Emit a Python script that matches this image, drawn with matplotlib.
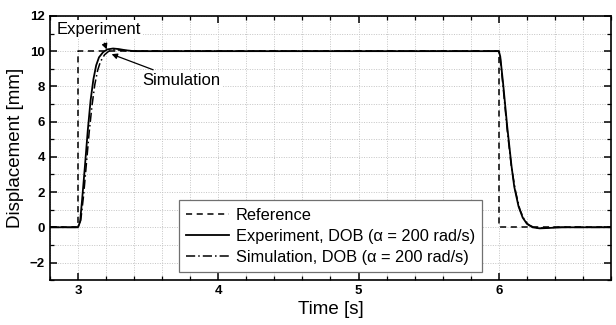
import matplotlib
matplotlib.use("Agg")
import matplotlib.pyplot as plt
from matplotlib.ticker import MultipleLocator

plt.rcParams['font.family'] = ['Liberation Sans', 'DejaVu Sans']

# values
ref_t = [2.8, 3.0, 3.0, 6.0, 6.0, 6.8]
ref_y = [0, 0, 10, 10, 0, 0]

exp_t = [2.8, 3.0, 3.015, 3.03, 3.05, 3.07, 3.09, 3.11, 3.13, 3.15, 3.18,
         3.21, 3.25, 3.29, 3.34, 3.40, 3.50, 6.0, 6.01, 6.03, 6.06, 6.09,
         6.11, 6.14, 6.17, 6.20, 6.24, 6.29, 6.35, 6.45, 6.8]
exp_y = [0, 0, 0.3, 1.6, 3.5, 5.5, 7.2, 8.4, 9.2, 9.65, 9.95,
         10.1, 10.15, 10.12, 10.05, 10.0, 10.0, 10.0, 9.7, 8.2, 5.7, 3.5,
         2.3, 1.2, 0.55, 0.2, 0.0, -0.06, -0.04, 0.0, 0.0]

sim_t = [2.8, 3.0, 3.02, 3.04, 3.06, 3.08, 3.10, 3.12, 3.14, 3.16, 3.19,
         3.22, 3.26, 3.30, 3.36, 3.45, 6.0, 6.01, 6.03, 6.06, 6.09,
         6.12, 6.15, 6.18, 6.21, 6.25, 6.30, 6.40, 6.8]
sim_y = [0, 0, 0.4, 1.8, 3.6, 5.4, 6.9, 8.1, 8.9, 9.4, 9.8,
         10.0, 10.08, 10.06, 10.02, 10.0, 10.0, 9.6, 8.0, 5.5, 3.4,
         2.0, 1.0, 0.45, 0.15, 0.0, -0.04, 0.0, 0.0]

labels = ['Reference',
          'Experiment, DOB (α = 200 rad/s)',
          'Simulation, DOB (α = 200 rad/s)']

fig = plt.figure(figsize=(6.16, 3.25), dpi=100)
ax = fig.add_axes([0.081, 0.138, 0.911, 0.813])

ax.plot(ref_t, ref_y, color='black', linestyle=(0, (4, 3)), lw=1.1, label=labels[0])
ax.plot(exp_t, exp_y, color='black', linestyle='-', lw=1.3, label=labels[1])
ax.plot(sim_t, sim_y, color='black', linestyle=(0, (6, 2, 1, 2)), lw=1.1, label=labels[2])

ax.set_xlim(2.8, 6.8)
ax.set_ylim(-3, 12)
ax.xaxis.set_major_locator(MultipleLocator(1))
ax.xaxis.set_minor_locator(MultipleLocator(0.2))
ax.yaxis.set_major_locator(MultipleLocator(2))
ax.yaxis.set_minor_locator(MultipleLocator(1))
ax.grid(True, which='both', color='#c4c4c4', linestyle=(0, (1, 1.5)), lw=0.7)
ax.tick_params(which='both', direction='in', top=True, right=True)
ax.tick_params(which='major', length=5, width=1.1, labelsize=9.5)
ax.tick_params(which='minor', length=3, width=0.9)
for lab in ax.get_xticklabels() + ax.get_yticklabels():
    lab.set_fontweight('bold')
for s in ax.spines.values():
    s.set_linewidth(1.2)

ax.set_xlabel('Time [s]', fontsize=13.5, labelpad=3)
ax.set_ylabel('Displacement [mm]', fontsize=13.5)

ax.annotate('Experiment', xy=(3.205, 10.1), xytext=(3.15, 11.25),
            fontsize=12, ha='center', va='center',
            bbox=dict(facecolor='white', edgecolor='none', pad=1),
            arrowprops=dict(arrowstyle='-|>', color='black', lw=0.9,
                            shrinkA=4, shrinkB=0, mutation_scale=8))
ax.annotate('Simulation', xy=(3.24, 9.83), xytext=(3.74, 8.33),
            fontsize=12, ha='center', va='center',
            bbox=dict(facecolor='white', edgecolor='none', pad=1),
            arrowprops=dict(arrowstyle='-|>', color='black', lw=0.9,
                            shrinkA=4, shrinkB=0, mutation_scale=8))

leg = ax.legend(loc='lower center', bbox_to_anchor=(0.5, 0.0), fontsize=11.8,
                frameon=True, fancybox=False, edgecolor='#707070',
                framealpha=1, handlelength=2.6, handletextpad=0.4,
                borderpad=0.45, labelspacing=0.36, borderaxespad=0.5)
leg.get_frame().set_linewidth(0.9)

fig.savefig('out.png', dpi=100)
